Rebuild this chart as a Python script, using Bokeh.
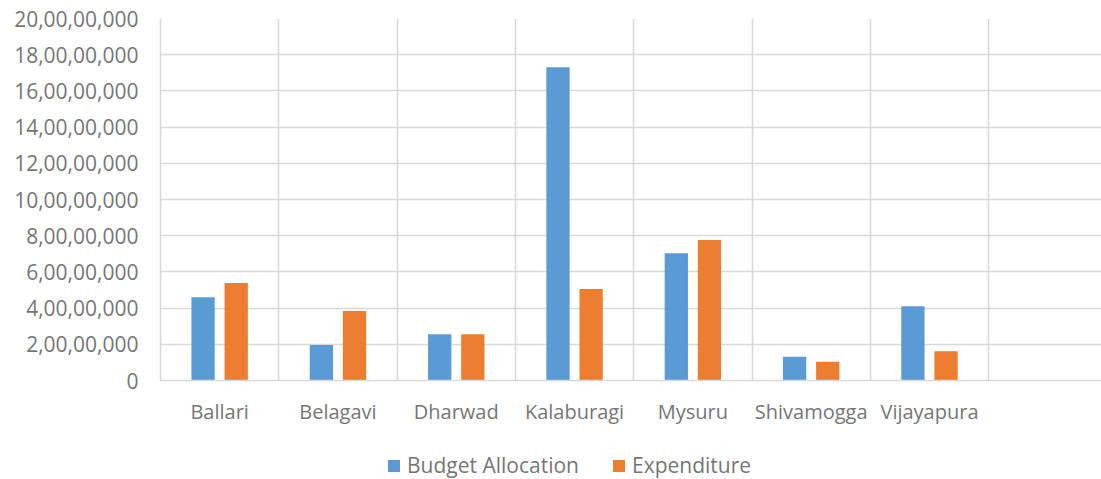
from bokeh.plotting import figure
from bokeh.models import Range1d, FixedTicker, Legend, LegendItem
from bokeh.layouts import column
from bokeh.embed import file_html
from bokeh.resources import INLINE

# ---- data ----
categories = ["Ballari", "Belagavi", "Dharwad", "Kalaburagi", "Mysuru", "Shivamogga", "Vijayapura"]
budget_allocation = [46000000, 19600000, 25500000, 173000000, 70300000, 13100000, 41000000]
expenditure = [53900000, 38400000, 25500000, 50600000, 77600000, 10400000, 16100000]
y_ticks = [0, 20000000, 40000000, 60000000, 80000000, 100000000,
           120000000, 140000000, 160000000, 180000000, 200000000]
y_tick_labels = ["0", "2,00,00,000", "4,00,00,000", "6,00,00,000", "8,00,00,000",
                 "10,00,00,000", "12,00,00,000", "14,00,00,000", "16,00,00,000",
                 "18,00,00,000", "20,00,00,000"]
series_names = ["Budget Allocation", "Expenditure"]
colors = ["#5B9BD5", "#ED7D31"]

n_slots = len(categories) + 1  # the source chart has one trailing empty column
FONT = "Open Sans"
TEXT_COLOR = "#767676"
GRID_COLOR = "#d9d9d9"

p = figure(width=1101, height=440, output_backend="svg", toolbar_location=None,
           x_range=Range1d(0, 7.954), y_range=Range1d(y_ticks[0], y_ticks[-1]),
           min_border_left=160, min_border_right=0, min_border_top=18,
           min_border_bottom=60)
p.outline_line_color = None
p.background_fill_color = "white"
p.border_fill_color = "white"

centers = [i + 0.5 for i in range(len(categories))]
offset = 0.14
bw = 0.197
r1 = p.vbar(x=[c - offset for c in centers], top=budget_allocation, width=bw,
            bottom=0, fill_color=colors[0], line_color=None)
r2 = p.vbar(x=[c + offset for c in centers], top=expenditure, width=bw,
            bottom=0, fill_color=colors[1], line_color=None)

# axes
p.xaxis.ticker = FixedTicker(ticks=centers)
p.xaxis.major_label_overrides = {c: name for c, name in zip(centers, categories)}
p.yaxis.ticker = FixedTicker(ticks=y_ticks)
p.yaxis.major_label_overrides = {t: lab for t, lab in zip(y_ticks, y_tick_labels)}
for ax in (p.xaxis, p.yaxis):
    ax.axis_line_color = GRID_COLOR
    ax.axis_line_width = 1.6
    ax.major_tick_line_color = None
    ax.minor_tick_line_color = None
    ax.major_label_text_font = FONT
    ax.major_label_text_color = TEXT_COLOR
p.xaxis.major_label_text_font_size = "20px"
p.yaxis.major_label_text_font_size = "21px"
p.xaxis.major_label_standoff = 11
p.yaxis.major_label_standoff = 16

# grids: horizontal at ticks, vertical at category boundaries
p.xgrid.ticker = FixedTicker(ticks=list(range(0, n_slots + 1)))
p.ygrid.ticker = FixedTicker(ticks=y_ticks)
for g in (p.xgrid, p.ygrid):
    g.grid_line_color = GRID_COLOR
    g.grid_line_width = 1.6

# legend strip below the chart (its bars lie outside its visible range;
# they only supply the legend swatches)
lf = figure(width=1101, height=39, output_backend="svg", toolbar_location=None,
            x_axis_type=None, y_axis_type=None,
            x_range=Range1d(-3, -2), y_range=Range1d(0, 1),
            min_border_left=0, min_border_right=0, min_border_top=0,
            min_border_bottom=0)
lf.outline_line_color = None
lf.xgrid.visible = False
lf.ygrid.visible = False
k1 = lf.vbar(x=[c - offset for c in centers], top=budget_allocation, width=bw,
             fill_color=colors[0], line_color=None)
k2 = lf.vbar(x=[c + offset for c in centers], top=expenditure, width=bw,
             fill_color=colors[1], line_color=None)
legend = Legend(items=[LegendItem(label=series_names[0], renderers=[k1]),
                       LegendItem(label=series_names[1], renderers=[k2])],
                orientation="horizontal", location=(226, 0))
legend.border_line_color = None
legend.background_fill_alpha = 0
legend.padding = 0
legend.margin = 0
legend.spacing = 32
legend.glyph_width = 15
legend.glyph_height = 15
legend.label_standoff = 6
legend.label_height = 20
legend.label_text_font = FONT
legend.label_text_font_size = "21px"
legend.label_text_color = TEXT_COLOR
lf.add_layout(legend, "center")

layout = column(p, lf, spacing=0)
open("out.html", "w").write(file_html(layout, INLINE))
